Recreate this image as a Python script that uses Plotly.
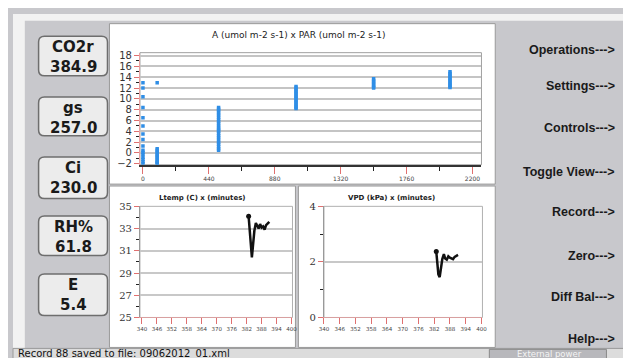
import plotly.graph_objects as go

W, H = 631, 358

# ---------------- data ----------------
readout_labels = ["CO2r", "gs", "Ci", "RH%", "E"]
readout_values = ["384.9", "257.0", "230.0", "61.8", "5.4"]

menu_labels = ["Operations--->", "Settings--->", "Controls--->", "Toggle View--->",
               "Record--->", "Zero--->", "Diff Bal--->", "Help--->"]

par_0 = [0] * 16
a_0 = [13.0, 12.0, 10.4, 8.4, 6.5, 5.0, 3.5, 2.5, 1.3, 0.5, 0.1, -0.3, -0.8, -1.2, -1.6, -2.0]
par_100 = [95] * 12
a_100 = [13.0, 0.8, 0.5, 0.2, -0.1, -0.4, -0.7, -1.0, -1.3, -1.6, -1.8, -2.0]
par_500 = [505] * 22
a_500 = [8.4, 8.1, 7.8, 7.4, 7.0, 6.6, 6.2, 5.8, 5.4, 5.0, 4.6, 4.3, 4.0, 3.6, 3.2,
         2.8, 2.4, 2.0, 1.6, 1.2, 0.8, 0.5]
par_1000 = [1022] * 15
a_1000 = [12.3, 12.0, 11.7, 11.4, 11.1, 10.8, 10.5, 10.2, 9.9, 9.6, 9.3, 9.0, 8.7, 8.4, 8.2]
par_1500 = [1540] * 7
a_1500 = [13.7, 13.4, 13.1, 12.8, 12.5, 12.2, 12.0]
par_2000 = [2050] * 11
a_2000 = [15.0, 14.7, 14.4, 14.1, 13.8, 13.5, 13.2, 12.9, 12.6, 12.3, 12.1]

minutes = [382.8, 383.2, 383.6, 384.1, 384.6, 385.1, 385.7, 386.2, 386.8, 387.4,
           388.0, 388.6, 389.2, 389.8, 390.4, 391.1]
ltemp = [34.1, 33.0, 31.6, 30.4, 31.6, 32.8, 33.5, 33.2, 33.0, 33.4,
         33.1, 33.2, 32.9, 33.3, 33.4, 33.6]
vpd = [2.37, 1.95, 1.55, 1.45, 1.75, 2.1, 2.28, 2.12, 2.08, 2.2,
       2.15, 2.12, 2.1, 2.18, 2.22, 2.25]

top_xticks = [0, 440, 880, 1320, 1760, 2200]
top_yticks = [-2, 0, 2, 4, 6, 8, 10, 12, 14, 16, 18]
min_ticks = [340, 346, 352, 358, 364, 370, 376, 382, 388, 394, 400]
lt_yticks = [25, 27, 29, 31, 33, 35]
vpd_yticks = [0, 2, 4]

status_text = "Record 88 saved to file: 09062012_01.xml"
power_text = "External power"

# ---------------- helpers ----------------
def px(x):
    return x / W


def py(y):
    return 1 - y / H


def rect(x0, y0, x1, y1, fill, line="rgba(0,0,0,0)", lw=1, layer="below"):
    return dict(type="rect", xref="paper", yref="paper",
                x0=px(x0), x1=px(x1), y0=py(y1), y1=py(y0),
                fillcolor=fill, line=dict(color=line, width=lw), layer=layer)


def rrect(x0, y0, x1, y1, r, fill, line, lw):
    rx, ry = r / W, r / H
    X0, X1, Y0, Y1 = px(x0), px(x1), py(y1), py(y0)
    path = (f"M {X0+rx},{Y0} L {X1-rx},{Y0} Q {X1},{Y0} {X1},{Y0+ry} "
            f"L {X1},{Y1-ry} Q {X1},{Y1} {X1-rx},{Y1} L {X0+rx},{Y1} "
            f"Q {X0},{Y1} {X0},{Y1-ry} L {X0},{Y0+ry} Q {X0},{Y0} {X0+rx},{Y0} Z")
    return dict(type="path", xref="paper", yref="paper", path=path,
                fillcolor=fill, line=dict(color=line, width=lw), layer="below")


def text(x, y, s, size, color="#1a1a1a", xanchor="center", bold=True, family="DejaVu Sans"):
    return dict(x=px(x), y=py(y), xref="paper", yref="paper", text=(f"<b>{s}</b>" if bold else s),
                showarrow=False, xanchor=xanchor, yanchor="middle",
                font=dict(size=size, color=color, family=family))


fig = go.Figure()

blue = "#2f8ee6"
for xs, ys in [(par_0, a_0), (par_100, a_100), (par_500, a_500),
               (par_1000, a_1000), (par_1500, a_1500), (par_2000, a_2000)]:
    fig.add_trace(go.Scatter(x=xs, y=ys, mode="markers", xaxis="x", yaxis="y",
                             marker=dict(color=blue, size=3.5, symbol="square"),
                             showlegend=False, hoverinfo="skip"))

fig.add_trace(go.Scatter(x=minutes, y=ltemp, mode="lines", xaxis="x2", yaxis="y2",
                         line=dict(color="#111111", width=2.5), showlegend=False))
fig.add_trace(go.Scatter(x=minutes[:1], y=ltemp[:1], mode="markers", xaxis="x2", yaxis="y2",
                         marker=dict(color="#111111", size=5), showlegend=False))
fig.add_trace(go.Scatter(x=minutes, y=vpd, mode="lines", xaxis="x3", yaxis="y3",
                         line=dict(color="#111111", width=2.5), showlegend=False))
fig.add_trace(go.Scatter(x=minutes[:1], y=vpd[:1], mode="markers", xaxis="x3", yaxis="y3",
                         marker=dict(color="#111111", size=5), showlegend=False))

red = "#e07070"
common = dict(zeroline=False, fixedrange=True)

fig.update_layout(
    width=W, height=H, margin=dict(l=0, r=0, t=0, b=0),
    paper_bgcolor="#c8c8cc", plot_bgcolor="rgba(0,0,0,0)",
    xaxis=dict(domain=[px(129), px(476)], range=[-20, 2260], anchor="y",
               tickvals=top_xticks, ticks="outside", ticklen=7, tickcolor=red,
               minor=dict(dtick=220, tick0=0, ticks="outside", ticklen=4, tickcolor="#222"),
               showgrid=False, showline=True, linecolor="#333", linewidth=1.5,
               tickfont=dict(size=6, color="#444", family="DejaVu Sans"), **common),
    yaxis=dict(domain=[py(156), py(40)], range=[-2.18, 18.54], anchor="x",
               tickvals=top_yticks, ticks="outside", ticklen=5, tickcolor=red,
               minor=dict(dtick=1, tick0=0, ticks="outside", ticklen=3, tickcolor="#222", showgrid=False),
               showgrid=True, gridcolor="#c4c4c4", gridwidth=2,
               showline=True, linecolor="#e8a0a0", linewidth=1,
               tickfont=dict(size=10, color="#333", family="DejaVu Sans"), **common),
    xaxis2=dict(domain=[px(129), px(284)], range=[339.2, 400.4], anchor="y2",
                tickvals=min_ticks, ticks="outside", ticklen=6, tickcolor=red,
                showgrid=False, showline=True, linecolor="#d8a0a0", linewidth=1,
                tickfont=dict(size=5.5, color="#444", family="DejaVu Sans"), **common),
    yaxis2=dict(domain=[py(314), py(199)], range=[25, 35], anchor="x2",
                tickvals=lt_yticks, ticks="outside", ticklen=5, tickcolor=red,
                minor=dict(dtick=1, tick0=25, ticks="outside", ticklen=3, tickcolor="#222", showgrid=False),
                showgrid=True, gridcolor="#c8c8c8", gridwidth=2,
                showline=True, linecolor="#999", linewidth=1,
                tickfont=dict(size=10, color="#333", family="DejaVu Serif"), **common),
    xaxis3=dict(domain=[px(316), px(477)], range=[340, 400.4], anchor="y3",
                tickvals=min_ticks, ticks="outside", ticklen=6, tickcolor=red,
                showgrid=False, showline=True, linecolor="#d8a0a0", linewidth=1,
                tickfont=dict(size=5.5, color="#444", family="DejaVu Sans"), **common),
    yaxis3=dict(domain=[py(314), py(199)], range=[0, 4], anchor="x3",
                tickvals=vpd_yticks, ticks="outside", ticklen=5, tickcolor=red,
                minor=dict(dtick=1, tick0=0, ticks="outside", ticklen=3, tickcolor="#222", showgrid=False),
                showgrid=True, gridcolor="#c8c8c8", gridwidth=2,
                showline=True, linecolor="#999", linewidth=1,
                tickfont=dict(size=10, color="#333", family="DejaVu Serif"), **common),
)

shapes = [
    rect(0, 0, W, 7, "#f2f2f2"),
    rect(0, 0, 12, 346, "#f2f2f2"),
    # main chart panels
    rect(98, 10, 490, 176, "#ffffff", "#9a9a9a", 1),
    rect(98, 178, 287, 345, "#ffffff", "#9a9a9a", 1),
    rect(290, 178, 490, 345, "#ffffff", "#9a9a9a", 1),
    # plot frames
    rect(129, 40, 476, 156, "rgba(0,0,0,0)", "#a0a0a0", 1),
    rect(129, 199, 284, 314, "rgba(0,0,0,0)", "#b0b0b0", 1),
    rect(316, 199, 477, 314, "rgba(0,0,0,0)", "#b0b0b0", 1),
    # right border line
    dict(type="line", xref="paper", yref="paper", x0=px(626), x1=px(626), y0=py(345), y1=py(7),
         line=dict(color="#8c94a4", width=2)),
    # status bar
    rect(0, 346, W, H, "#dcdcdc", "#9a9a9a", 1),
    rect(484, 347, 603, H, "#b8b8bc", "#8a8a8a", 1),
]

box_tops = [23, 86, 148, 209, 269]
box_bottoms = [64, 126, 191, 250, 312]
for t, b in zip(box_tops, box_bottoms):
    shapes.append(rrect(26, t, 96, b, 6, "#ececec", "#6e6e6e", 1.5))
fig.update_layout(shapes=shapes)

ann = []
for lab, val, t in zip(readout_labels, readout_values, box_tops):
    ann.append(text(61, t + 11, lab, 15))
    ann.append(text(61, t + 32, val, 15))

menu_y = [37, 75, 118, 163, 205, 250, 293, 336]
for lab, yy in zip(menu_labels, menu_y):
    ann.append(text(614, yy, lab, 12.5, xanchor="right", family="Liberation Sans"))

ann.append(text(290, 22, "A (umol m-2 s-1) x PAR (umol m-2 s-1)", 9, color="#222", bold=False))
ann.append(text(193, 190, "Ltemp (C) x (minutes)", 7, color="#222"))
ann.append(text(385, 190, "VPD (kPa) x (minutes)", 7, color="#222"))
ann.append(text(3, 351.5, status_text, 10, color="#111", xanchor="left", bold=False))
ann.append(text(545, 352, power_text, 8.5, color="#f4f4f4", bold=False))
fig.update_layout(annotations=ann)

fig.write_html("out.html")
